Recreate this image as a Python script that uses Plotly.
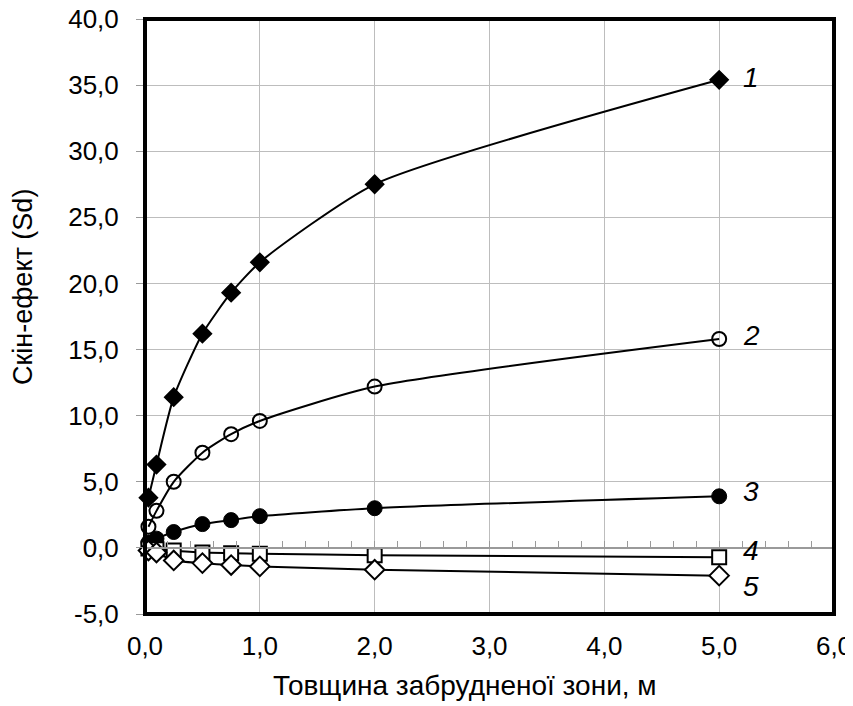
import plotly.graph_objects as go

# Data
x_vals = [0.03, 0.1, 0.25, 0.5, 0.75, 1.0, 2.0, 5.0]
s1 = [3.8, 6.3, 11.4, 16.2, 19.3, 21.6, 27.5, 35.4]
s2 = [1.6, 2.8, 5.0, 7.2, 8.6, 9.6, 12.2, 15.8]
s3 = [0.4, 0.7, 1.2, 1.8, 2.1, 2.4, 3.0, 3.9]
s4 = [-0.05, -0.1, -0.2, -0.35, -0.4, -0.45, -0.55, -0.7]
s5 = [-0.2, -0.35, -0.95, -1.15, -1.3, -1.4, -1.65, -2.1]
series_labels = ["1", "2", "3", "4", "5"]
x_ticks = [0, 1, 2, 3, 4, 5, 6]
x_tick_labels = ["0,0", "1,0", "2,0", "3,0", "4,0", "5,0", "6,0"]
y_ticks = [-5, 0, 5, 10, 15, 20, 25, 30, 35, 40]
y_tick_labels = ["-5,0", "0,0", "5,0", "10,0", "15,0", "20,0", "25,0", "30,0", "35,0", "40,0"]

FONT = "Liberation Sans, Arial, sans-serif"

styles = [
    dict(symbol="diamond", size=14, color="black", line=dict(color="black", width=1.5)),
    dict(symbol="circle-open", size=14, color="black", line=dict(color="black", width=2)),
    dict(symbol="circle", size=15, color="black", line=dict(color="black", width=1)),
    dict(symbol="square", size=14, color="white", line=dict(color="black", width=2)),
    dict(symbol="diamond", size=15, color="white", line=dict(color="black", width=2)),
]
shifts = [(22, 2), (22, 3), (22, 5), (22, 7), (22, -11)]

fig = go.Figure()
for ys, st in zip([s1, s2, s3, s4, s5], styles):
    fig.add_trace(go.Scatter(
        x=x_vals, y=ys, mode="lines+markers",
        line=dict(color="black", width=2, shape="spline", smoothing=0.6),
        marker=st, showlegend=False, cliponaxis=False,
    ))

# invisible trace to carry the zero-line axis with minor ticks
fig.add_trace(go.Scatter(x=[0, 6], y=[0, 0], xaxis="x2", mode="lines",
                         line=dict(width=0), hoverinfo="skip", showlegend=False))

annotations = []
for ys, lab, (dx, dy) in zip([s1, s2, s3, s4, s5], series_labels, shifts):
    annotations.append(dict(
        x=x_vals[-1], y=ys[-1], xref="x", yref="y", text=f"<i>{lab}</i>",
        showarrow=False, xanchor="left", yanchor="middle", xshift=dx, yshift=dy,
        font=dict(family=FONT, size=28, color="black"),
    ))
annotations.append(dict(
    x=0.464, y=-0.120, xref="paper", yref="paper", text="Товщина забрудненої зони, м",
    showarrow=False, xanchor="center", yanchor="middle",
    font=dict(family=FONT, size=28, color="black"),
))
annotations.append(dict(
    x=-0.176, y=0.549, xref="paper", yref="paper", text="Скін-ефект (Sd)",
    showarrow=False, xanchor="center", yanchor="middle", textangle=-90,
    font=dict(family=FONT, size=27, color="black"),
))

fig.update_layout(
    width=845, height=698,
    margin=dict(l=137, r=19, t=11, b=92, autoexpand=False),
    paper_bgcolor="white", plot_bgcolor="white",
    font=dict(family=FONT, size=26, color="black"),
    xaxis=dict(
        range=[0, 6], tickvals=x_ticks, ticktext=x_tick_labels,
        showgrid=True, gridcolor="#bdbdbd", gridwidth=1, automargin=False,
        zeroline=False, showline=False, ticks="", ticklabelstandoff=14,
        ticklabeloverflow="allow",
        tickfont=dict(family=FONT, size=26, color="black"),
    ),
    xaxis2=dict(
        range=[0, 6], overlaying="x", anchor="free", position=5 / 45,
        side="top", showgrid=False, zeroline=False, showline=True,
        linecolor="#9a9a9a", linewidth=1.5, ticks="outside", dtick=0.2,
        tick0=0, ticklen=6, tickcolor="#9a9a9a", tickwidth=1,
        showticklabels=False, automargin=False,
    ),
    yaxis=dict(
        range=[-5, 40], tickvals=y_ticks, ticktext=y_tick_labels,
        showgrid=True, gridcolor="#bdbdbd", gridwidth=1, automargin=False,
        zeroline=False, showline=False, ticks="outside", ticklen=8,
        tickcolor="#9a9a9a", ticklabelstandoff=12, ticklabeloverflow="allow",
        tickfont=dict(family=FONT, size=26, color="black"),
    ),
    annotations=annotations,
    shapes=[dict(type="rect", xref="paper", yref="paper", x0=0, x1=1, y0=0, y1=1,
                 line=dict(color="black", width=4), layer="above")],
)

fig.write_html("out.html")
